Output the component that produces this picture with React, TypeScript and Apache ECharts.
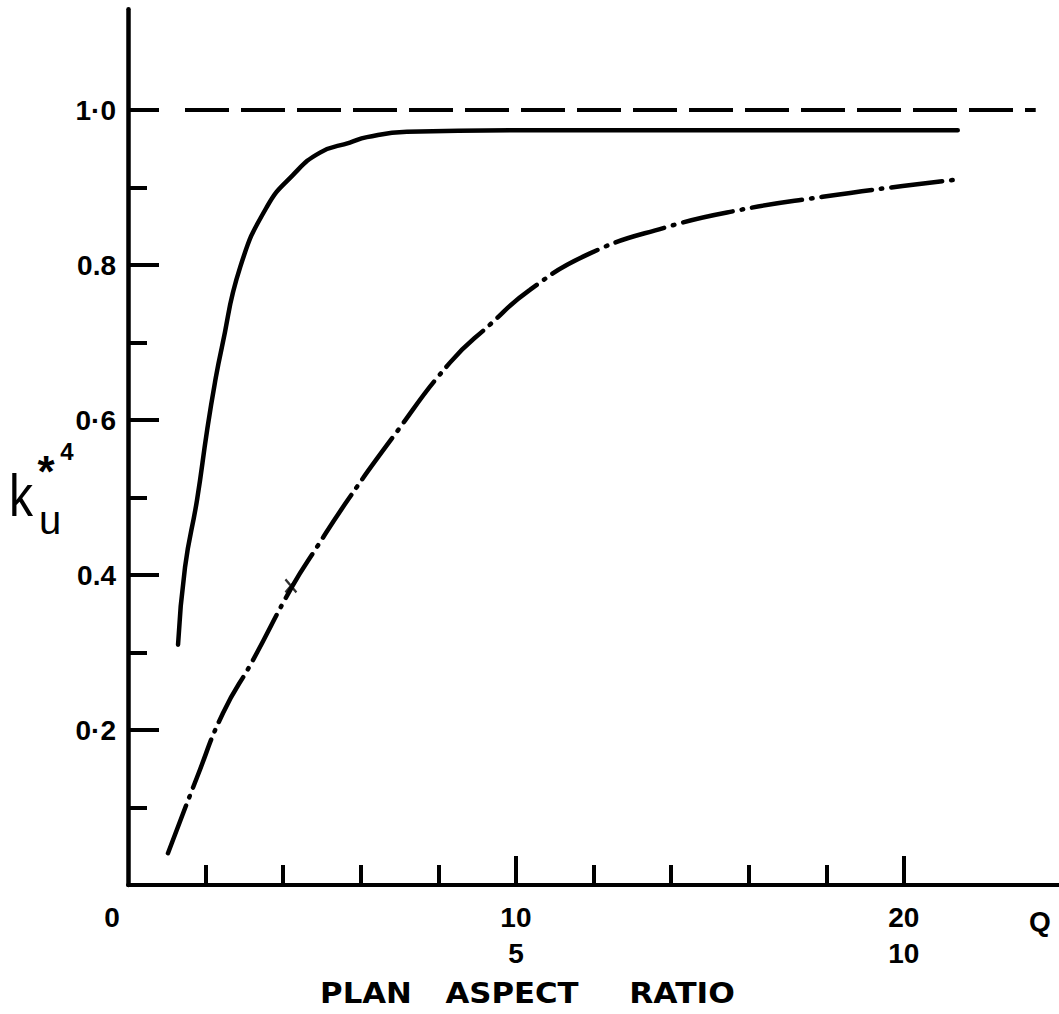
import React, { useEffect, useRef } from "react";
import * as echarts from "echarts";

// ---- data ----
const solidX = [1.29, 1.47, 1.78, 2.04, 2.24, 2.42, 2.89, 3.58, 4.25, 4.95, 5.72, 6.16, 7.19, 10.0, 15.0, 21.39];
const solidY = [0.31, 0.41, 0.497, 0.587, 0.648, 0.694, 0.797, 0.875, 0.916, 0.945, 0.958, 0.965, 0.972, 0.974, 0.974, 0.974];

const dashDotX = [1.03, 1.78, 2.45, 3.22, 4.23, 4.87, 5.67, 6.83, 8.3, 9.33, 10.36, 11.91, 13.89, 15.77, 17.91, 19.97, 21.31];
const dashDotY = [0.041, 0.139, 0.222, 0.29, 0.385, 0.436, 0.497, 0.578, 0.674, 0.723, 0.768, 0.815, 0.849, 0.871, 0.888, 0.902, 0.91];

const refX = [1.47, 23.4];
const refY = [1.0, 1.0];

const crossX = [4.2];
const crossY = [0.386];

const xMinorTicks = [2, 4, 6, 8, 12, 14, 16, 18];
const xMajorTicks = [10, 20];
const xLabelValues = [0, 10, 20];
const xLabelTexts = ["0", "10\n5", "20\n10"];

const yMinorTicks = [0.1, 0.3, 0.5, 0.7, 0.9];
const yMajorTicks = [0.2, 0.4, 0.6, 0.8, 1.0];
const yLabelTexts = ["0·2", "0.4", "0·6", "0.8", "1·0"];

const titleWords = ["PLAN", "ASPECT", "RATIO"];
const yName = { base: "k", sub: "u", star: "*", sup: "4" };
const qLabel = "Q";

const NUM_FONT = '"Liberation Sans", Arial, sans-serif';
const TITLE_FONT = '"DejaVu Sans", sans-serif';

export default function App() {
  const ref = useRef<HTMLDivElement | null>(null);

  useEffect(() => {
    if (!ref.current) return;
    const chart = echarts.init(ref.current, undefined, { renderer: "svg" });

    const pairs = (xs: number[], ys: number[]) => xs.map((x, i) => [x, ys[i]]);

    const xFmt = (v: number) => {
      const i = xLabelValues.findIndex((t) => Math.abs(t - v) < 1e-6);
      if (i < 0) return "";
      if (v === 0) return "{z|" + xLabelTexts[i] + "}";
      return xLabelTexts[i];
    };
    const yFmt = (v: number) => {
      const i = yMajorTicks.findIndex((t) => Math.abs(t - v) < 1e-6);
      return i < 0 ? "" : yLabelTexts[i];
    };

    const tickStyle = { color: "#000", width: 4 };
    const titleStyle = (t: string) => ({
      text: t,
      fontFamily: TITLE_FONT,
      fontWeight: "bold",
      fontSize: 28,
      fill: "#000",
      align: "center",
      verticalAlign: "middle",
    });

    chart.setOption({
      animation: false,
      backgroundColor: "#fff",
      grid: { left: 128, right: 0, top: 885 - 1.13 * 775, bottom: 1014 - 885 },
      xAxis: [
        {
          type: "value",
          position: "bottom",
          min: 0,
          max: 24,
          axisLine: { show: true, lineStyle: { color: "#000", width: 4 } },
          axisTick: { show: true, inside: true, length: 20, customValues: xMinorTicks, lineStyle: tickStyle },
          axisLabel: {
            show: true,
            customValues: xLabelValues,
            formatter: xFmt,
            color: "#000",
            fontFamily: NUM_FONT,
            fontWeight: "bold",
            fontSize: 28,
            lineHeight: 36,
            margin: 14,
            rich: {
              z: { fontFamily: NUM_FONT, fontWeight: "bold", fontSize: 28, color: "#000", padding: [0, 32, 0, 0], lineHeight: 36 },
            },
          },
          splitLine: { show: false },
        },
        {
          type: "value",
          position: "bottom",
          min: 0,
          max: 24,
          axisLine: { show: false },
          axisTick: { show: true, inside: true, length: 29, customValues: xMajorTicks, lineStyle: tickStyle },
          axisLabel: { show: false },
          splitLine: { show: false },
        },
      ],
      yAxis: [
        {
          type: "value",
          position: "left",
          min: 0,
          max: 1.13,
          axisLine: { show: true, lineStyle: { color: "#000", width: 4.5 } },
          axisTick: { show: true, inside: true, length: 19, customValues: yMinorTicks, lineStyle: tickStyle },
          axisLabel: {
            show: true,
            customValues: yMajorTicks,
            formatter: yFmt,
            color: "#000",
            fontFamily: NUM_FONT,
            fontWeight: "bold",
            fontSize: 28,
            margin: 12,
          },
          splitLine: { show: false },
        },
        {
          type: "value",
          position: "left",
          min: 0,
          max: 1.13,
          axisLine: { show: false },
          axisTick: { show: true, inside: true, length: 31, customValues: yMajorTicks, lineStyle: tickStyle },
          axisLabel: { show: false },
          splitLine: { show: false },
        },
      ],
      series: [
        {
          type: "line",
          data: pairs(refX, refY),
          showSymbol: false,
          symbol: "none",
          lineStyle: { color: "#000", width: 4, type: [44, 12] },
        },
        {
          type: "line",
          data: pairs(solidX, solidY),
          showSymbol: false,
          symbol: "none",
          smooth: 0.5,
          lineStyle: { color: "#000", width: 4.5, cap: "round" },
        },
        {
          type: "line",
          data: pairs(dashDotX, dashDotY),
          showSymbol: false,
          symbol: "none",
          smooth: 0.5,
          lineStyle: { color: "#000", width: 4.5, cap: "round", type: [51, 9, 1.5, 9] },
        },
        {
          type: "scatter",
          data: pairs(crossX, crossY),
          symbol: "path://M0 0L10 12M10 0L0 12",
          symbolSize: [11, 13],
          itemStyle: { color: "none", borderColor: "#000", borderWidth: 2.5 },
          z: 5,
        },
      ],
      graphic: [
        {
          type: "text",
          x: 21,
          y: 496,
          scaleX: 0.8,
          style: { text: yName.base, fontFamily: NUM_FONT, fontSize: 60, fill: "#000", align: "center", verticalAlign: "middle" },
        },
        {
          type: "text",
          x: 50,
          y: 520,
          style: { text: yName.sub, fontFamily: NUM_FONT, fontSize: 40, fill: "#000", align: "center", verticalAlign: "middle" },
        },
        {
          type: "text",
          x: 46,
          y: 471,
          style: { text: yName.star, fontFamily: NUM_FONT, fontWeight: "bold", fontSize: 44, fill: "#000", align: "center", verticalAlign: "middle" },
        },
        {
          type: "text",
          x: 67,
          y: 451,
          style: { text: yName.sup, fontFamily: NUM_FONT, fontWeight: "bold", fontSize: 24, fill: "#000", align: "center", verticalAlign: "middle" },
        },
        {
          type: "text",
          x: 1040,
          y: 921,
          style: { text: qLabel, fontFamily: NUM_FONT, fontWeight: "bold", fontSize: 28, fill: "#000", align: "center", verticalAlign: "middle" },
        },
        { type: "text", x: 366, y: 993, scaleX: 1.1, style: titleStyle(titleWords[0]) },
        { type: "text", x: 512, y: 993, scaleX: 1.1, style: titleStyle(titleWords[1]) },
        { type: "text", x: 682, y: 993, scaleX: 1.12, style: titleStyle(titleWords[2]) },
      ],
    });

    return () => chart.dispose();
  }, []);

  return (
    <div
      ref={ref}
      style={{ position: "fixed", left: 0, top: 0, width: 1059, height: 1014, background: "#fff" }}
    />
  );
}
